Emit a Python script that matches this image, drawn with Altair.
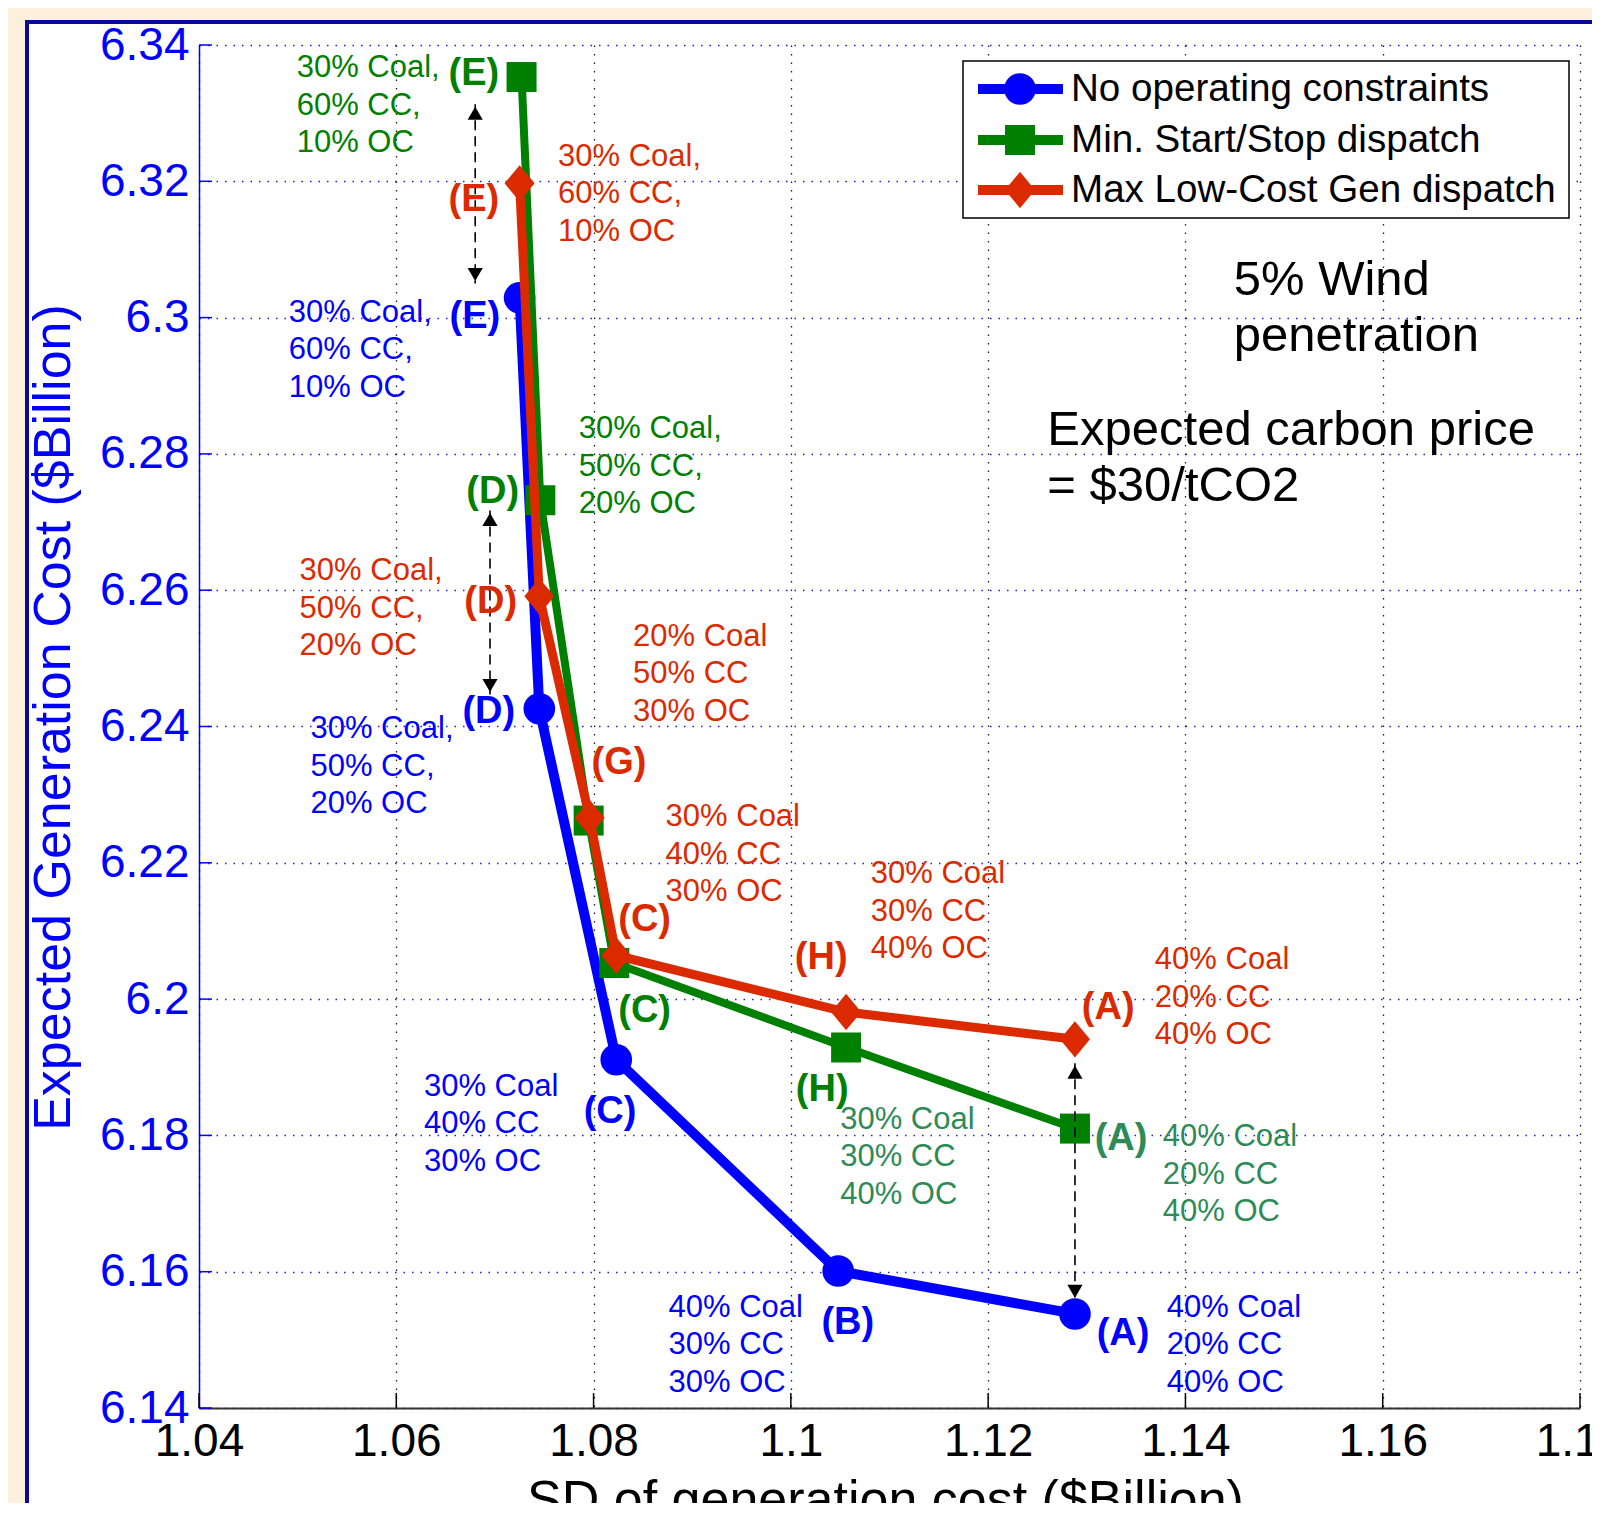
import altair as alt
import pandas as pd

# ---------------- data ----------------
series_names = ["No operating constraints", "Min. Start/Stop dispatch", "Max Low-Cost Gen dispatch"]

blue_pts = ["E", "D", "C", "B", "A"]
blue_x = [1.0725, 1.0745, 1.0823, 1.1048, 1.1288]
blue_y = [6.3029, 6.2426, 6.1911, 6.1601, 6.1538]

green_pts = ["E", "D", "G", "C", "H", "A"]
green_x = [1.0727, 1.0746, 1.0795, 1.0821, 1.1056, 1.1288]
green_y = [6.3353, 6.2732, 6.2262, 6.2053, 6.1929, 6.1810]

red_pts = ["E", "D", "G", "C", "H", "A"]
red_x = [1.0725, 1.0745, 1.0796, 1.0823, 1.1056, 1.1288]
red_y = [6.3197, 6.2591, 6.2266, 6.2064, 6.1981, 6.1941]

x_ticks = [1.04, 1.06, 1.08, 1.10, 1.12, 1.14, 1.16, 1.18]
y_ticks = [6.14, 6.16, 6.18, 6.20, 6.22, 6.24, 6.26, 6.28, 6.30, 6.32, 6.34]

arrow_x = [1.0680, 1.0695, 1.1288]
arrow_top = [6.3313, 6.2717, 6.1906]
arrow_bottom = [6.3050, 6.2447, 6.1558]

BLUE = "#0000FF"
GREEN = "#008000"
GREEN2 = "#2E8B57"
RED = "#DC2A00"

# (text, x, y, color, kind) -- y is the centre of the text block
annotations = [
    ("30% Coal,\n60% CC,\n10% OC", 1.0499, 6.3311, GREEN, "comp"),
    ("(E)", 1.0653, 6.3358, GREEN, "letter"),
    ("30% Coal,\n60% CC,\n10% OC", 1.0764, 6.3181, RED, "comp"),
    ("(E)", 1.0653, 6.3173, RED, "letter"),
    ("30% Coal,\n60% CC,\n10% OC", 1.0491, 6.2952, BLUE, "comp"),
    ("(E)", 1.0654, 6.3001, BLUE, "letter"),
    ("30% Coal,\n50% CC,\n20% OC", 1.0785, 6.2781, GREEN, "comp"),
    ("(D)", 1.0671, 6.2744, GREEN, "letter"),
    ("30% Coal,\n50% CC,\n20% OC", 1.0502, 6.2573, RED, "comp"),
    ("(D)", 1.0669, 6.2582, RED, "letter"),
    ("30% Coal,\n50% CC,\n20% OC", 1.0513, 6.2341, BLUE, "comp"),
    ("(D)", 1.0667, 6.2421, BLUE, "letter"),
    ("20% Coal\n50% CC\n30% OC", 1.0840, 6.2477, RED, "comp"),
    ("(G)", 1.0798, 6.2347, RED, "letter"),
    ("30% Coal\n40% CC\n30% OC", 1.0873, 6.2212, RED, "comp"),
    ("(C)", 1.0825, 6.2116, RED, "letter"),
    ("(C)", 1.0825, 6.1983, GREEN, "letter"),
    ("30% Coal\n40% CC\n30% OC", 1.0628, 6.1816, BLUE, "comp"),
    ("(C)", 1.0790, 6.1835, BLUE, "letter"),
    ("30% Coal\n30% CC\n40% OC", 1.1081, 6.2128, RED, "comp"),
    ("(H)", 1.1004, 6.2061, RED, "letter"),
    ("(H)", 1.1005, 6.1867, GREEN, "letter"),
    ("30% Coal\n30% CC\n40% OC", 1.1050, 6.1768, GREEN2, "comp"),
    ("40% Coal\n20% CC\n40% OC", 1.1369, 6.2002, RED, "comp"),
    ("(A)", 1.1295, 6.1987, RED, "letter"),
    ("(A)", 1.1308, 6.1795, GREEN2, "letter"),
    ("40% Coal\n20% CC\n40% OC", 1.1377, 6.1742, GREEN2, "comp"),
    ("40% Coal\n20% CC\n40% OC", 1.1381, 6.1492, BLUE, "comp"),
    ("(A)", 1.1310, 6.1508, BLUE, "letter"),
    ("40% Coal\n30% CC\n30% OC", 1.0876, 6.1492, BLUE, "comp"),
    ("(B)", 1.1031, 6.1525, BLUE, "letter"),
]

notes = [
    ("5% Wind\npenetration", 1.1449, 6.3017),
    ("Expected carbon price\n= $30/tCO2", 1.1260, 6.2797),
]

# ---------------- layout constants ----------------
W, H = 1381, 1363
FONT = "Liberation Sans"
CREAM = "#FCEFDB"
series_colors = [BLUE, GREEN, RED]
series_shapes = ["circle", "square", "M0,-1.15L0.95,0L0,1.15L-0.95,0Z"]
series_sizes = [1000, 900, 1000]

rows = []
for name, pts, xs, ys in [(series_names[0], blue_pts, blue_x, blue_y),
                          (series_names[1], green_pts, green_x, green_y),
                          (series_names[2], red_pts, red_x, red_y)]:
    for i, (p, xv, yv) in enumerate(zip(pts, xs, ys)):
        rows.append({"series": name, "pt": p, "x": xv, "y": yv, "order": i})
df = pd.DataFrame(rows)

xscale = alt.Scale(domain=[1.04, 1.18], nice=False, zero=False)
yscale = alt.Scale(domain=[6.14, 6.34], nice=False, zero=False)

one = pd.DataFrame({"a": [0]})

# cream margins and the dark-blue frame of the figure
cream_left = alt.Chart(one).mark_rect(fill=CREAM, clip=False).encode(
    x=alt.value(-191), x2=alt.value(-174), y=alt.value(-37), y2=alt.value(H + 120))
cream_top = alt.Chart(one).mark_rect(fill=CREAM, clip=False).encode(
    x=alt.value(-191), x2=alt.value(W + 30), y=alt.value(-37), y2=alt.value(-25))
frame = alt.Chart(one).mark_rect(
    filled=False, stroke="#0A0A9A", strokeWidth=4, clip=False
).encode(
    x=alt.value(-172), x2=alt.value(W + 200),
    y=alt.value(-23), y2=alt.value(H + 300),
)

# axes + grid carrier
axes_df = pd.DataFrame({"x": [1.04], "y": [6.14]})
axes_layer = alt.Chart(axes_df).mark_point(opacity=0).encode(
    x=alt.X("x:Q", scale=xscale, axis=alt.Axis(
        values=x_ticks, format=".3~g", title="SD of generation cost ($Billion)",
        labelFontSize=46, labelFont=FONT, labelColor="black", labelPadding=11,
        labelFlush=False, labelOverlap=False, labelBound=False,
        ticks=False, domainColor="#333333", domainWidth=2,
        grid=True, gridColor="black", gridDash=[1.5, 7], gridWidth=1.3, gridOpacity=0.9,
        titleFontSize=52, titleFont=FONT, titleFontWeight="normal", titleColor="black",
        titleX=686, titleY=108, titleBaseline="alphabetic", titleAlign="center",
    )),
    y=alt.Y("y:Q", scale=yscale, axis=alt.Axis(
        values=y_ticks, format=".3~g", title="Expected Generation Cost ($Billion)",
        labelFontSize=46, labelFont=FONT, labelColor=BLUE, labelPadding=10,
        labelFlush=False, labelOverlap=False, labelBound=False,
        ticks=False, domainColor=BLUE, domainWidth=1.5,
        grid=True, gridColor=BLUE, gridDash=[1.5, 7], gridWidth=1.3, gridOpacity=0.9,
        titleFontSize=52, titleFont=FONT, titleFontWeight="normal", titleColor=BLUE,
        titleX=-146, titleY=672, titleBaseline="middle", titleAlign="center", titleAngle=-90,
    )),
)

# inward tick marks
xt = alt.Chart(pd.DataFrame({"x": x_ticks})).mark_rule(color="black", strokeWidth=1.5).encode(
    x=alt.X("x:Q", scale=xscale), y=alt.value(H), y2=alt.value(H - 15))
yt = alt.Chart(pd.DataFrame({"y": y_ticks})).mark_rule(color=BLUE, strokeWidth=1.5).encode(
    y=alt.Y("y:Q", scale=yscale), x=alt.value(0), x2=alt.value(13))

line_layers = []
for name, c, shp, sz, lw in zip(series_names, series_colors, series_shapes, series_sizes, [10, 8, 9]):
    sub = df[df["series"] == name]
    base = alt.Chart(sub)
    line_layers.append(base.mark_line(color=c, strokeWidth=lw).encode(
        x=alt.X("x:Q", scale=xscale), y=alt.Y("y:Q", scale=yscale), order="order:Q"))
    line_layers.append(base.mark_point(color=c, filled=True, opacity=1, shape=shp, size=sz).encode(
        x=alt.X("x:Q", scale=xscale), y=alt.Y("y:Q", scale=yscale)))

# arrows
adf = pd.DataFrame({"x": arrow_x, "top": arrow_top, "bottom": arrow_bottom})
arrow_rule = alt.Chart(adf).mark_rule(color="black", strokeWidth=1.6, strokeDash=[10, 6]).encode(
    x=alt.X("x:Q", scale=xscale), y=alt.Y("top:Q", scale=yscale), y2="bottom:Q")
arrow_up = alt.Chart(adf).mark_point(shape="triangle-up", filled=True, color="black", opacity=1,
                                     size=230, yOffset=9).encode(
    x=alt.X("x:Q", scale=xscale), y=alt.Y("top:Q", scale=yscale))
arrow_down = alt.Chart(adf).mark_point(shape="triangle-down", filled=True, color="black", opacity=1,
                                       size=230, yOffset=-9).encode(
    x=alt.X("x:Q", scale=xscale), y=alt.Y("bottom:Q", scale=yscale))

# annotation texts (multi-line blocks: first line is drawn at y, so shift up one line)
ann_df = pd.DataFrame(annotations, columns=["text", "x", "y", "color", "kind"])
text_layers = []
for (col, kind), g in ann_df.groupby(["color", "kind"]):
    if kind == "comp":
        mk = alt.Chart(g).mark_text(align="left", baseline="middle", font=FONT, fontSize=31,
                                    lineHeight=37.5, dy=-37.5, color=col, lineBreak="\n")
    else:
        mk = alt.Chart(g).mark_text(align="left", baseline="middle", font=FONT, fontSize=38,
                                    fontWeight="bold", color=col)
    text_layers.append(mk.encode(x=alt.X("x:Q", scale=xscale), y=alt.Y("y:Q", scale=yscale),
                                 text="text:N"))

notes_df = pd.DataFrame(notes, columns=["text", "x", "y"])
notes_layer = alt.Chart(notes_df).mark_text(align="left", baseline="middle", font=FONT, fontSize=49,
                                            lineHeight=56, dy=-26, color="black", lineBreak="\n").encode(
    x=alt.X("x:Q", scale=xscale), y=alt.Y("y:Q", scale=yscale), text="text:N")

# manual legend
legend_layers = [
    alt.Chart(one).mark_rect(fill="white", stroke="black", strokeWidth=1.5).encode(
        x=alt.value(764), x2=alt.value(1370), y=alt.value(16), y2=alt.value(173))
]
row_y = [44, 95, 145]
for name, c, shp, sz, ry in zip(series_names, series_colors, series_shapes, series_sizes, row_y):
    legend_layers.append(alt.Chart(one).mark_rule(color=c, strokeWidth=10).encode(
        x=alt.value(779), x2=alt.value(864), y=alt.value(ry)))
    legend_layers.append(alt.Chart(one).mark_point(color=c, filled=True, opacity=1, shape=shp, size=sz).encode(
        x=alt.value(821), y=alt.value(ry)))
    legend_layers.append(alt.Chart(pd.DataFrame({"t": [name]})).mark_text(
        align="left", baseline="middle", font=FONT, fontSize=38.6, color="black").encode(
        x=alt.value(872), y=alt.value(ry), text="t:N"))

chart = alt.layer(
    cream_left, cream_top, frame, axes_layer, xt, yt, *line_layers, arrow_rule, arrow_up, arrow_down,
    *text_layers, notes_layer, *legend_layers
).properties(
    width=W, height=H,
    autosize=alt.AutoSizeParams(type="none"),
    padding={"left": 191, "top": 37, "right": 12, "bottom": 95},
    background="white",
).configure_view(stroke=None)

chart.save("out.html", embed_options={"renderer": "svg", "actions": False})
